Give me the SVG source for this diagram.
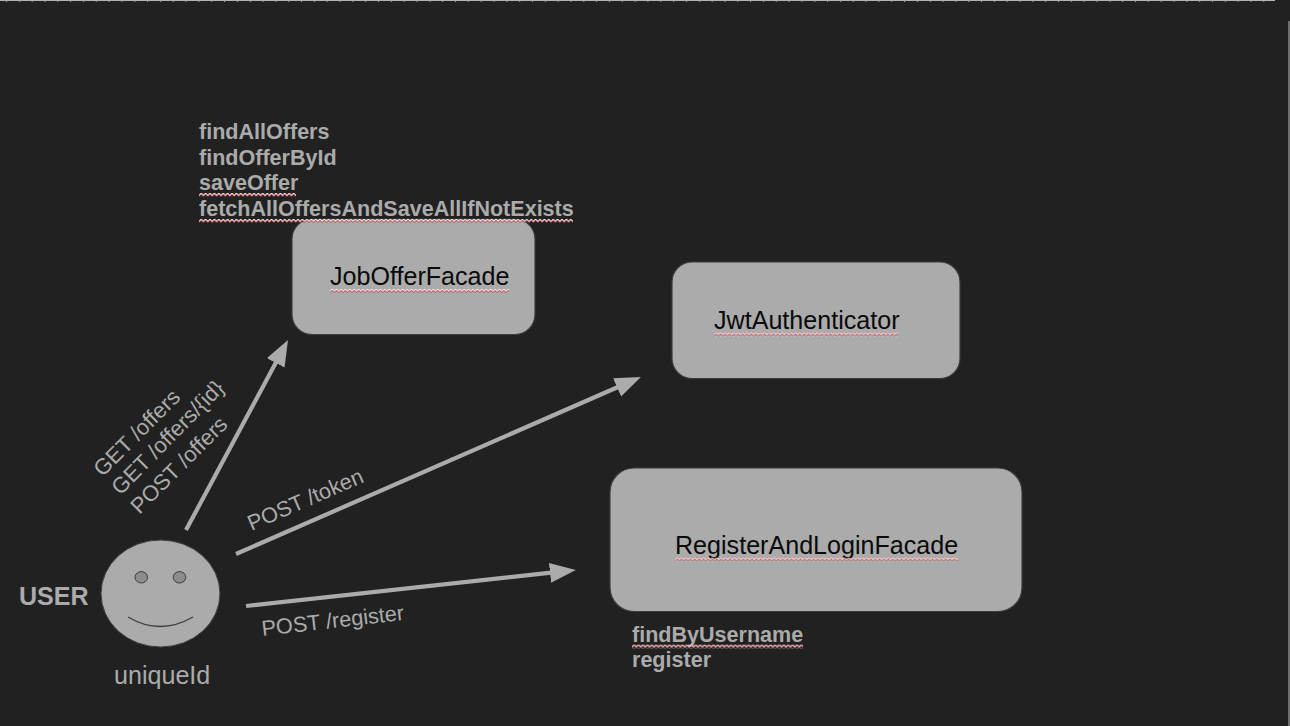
<svg xmlns="http://www.w3.org/2000/svg" width="1290" height="726" viewBox="0 0 1290 726">
<style>
text{font-family:"Liberation Sans",Arial,sans-serif}
.box{fill:#ababab;stroke:#3c3c3c;stroke-width:1.2}
.name{font-size:25.1px;fill:#0a0a0a}
.method{font-size:21.55px;font-weight:bold;fill:#ababab}
.route{font-size:22px;fill:#ababab}
.conn{fill:none;stroke:#ababab;stroke-width:4.2}
.face{fill:#ababab;stroke:#3c3c3c;stroke-width:1}
</style>
<defs>
<marker id="arrow" markerUnits="userSpaceOnUse" markerWidth="28" markerHeight="22" refX="1" refY="10" orient="auto">
<path d="M0 0L26 10L0 20Z" fill="#ababab"/>
</marker>
<pattern id="squiggle" width="4.4" height="4" patternUnits="userSpaceOnUse">
<path d="M0 3.400L2.200 1L4.400 3.400" fill="none" stroke="#c0404c" stroke-width="1.100"/>
<path d="M0 2.400L2.200 0L4.400 2.400" fill="none" stroke="#f4f0f0" stroke-width="0.900"/>
</pattern>
<pattern id="ruler" width="12.83" height="3" patternUnits="userSpaceOnUse">
<rect width="12.83" height="1" fill="#b4b4b4"/>
<rect x="6" width="1" height="2" fill="#a8a8a8"/>
</pattern>
</defs>
<rect width="1290" height="726" fill="#212121"/>
<rect x="0" y="0" width="1275" height="2" fill="url(#ruler)"/>
<rect x="1288" y="21" width="2" height="705" fill="#6e6e6e"/>
<g id="connectors">
<path class="conn" d="M186 530L276.200 362" marker-end="url(#arrow)"/>
<path class="conn" d="M236 554L618 387" marker-end="url(#arrow)"/>
<path class="conn" d="M246 606L551 572.700" marker-end="url(#arrow)"/>
</g>
<g id="job-offer-facade">
<rect class="box" x="292" y="219" width="243" height="115.500" rx="20"/>
<text class="name" x="330" y="285">JobOfferFacade</text>
<rect transform="translate(330 289)" width="179" height="4" fill="url(#squiggle)"/>
</g>
<g id="job-offer-methods">
<text class="method" x="199" y="139">findAllOffers</text>
<text class="method" x="199" y="165">findOfferById</text>
<text class="method" x="199" y="190">saveOffer</text>
<text class="method" x="199" y="216">fetchAllOffersAndSaveAllIfNotExists</text>
<rect transform="translate(199 193)" width="97" height="4" fill="url(#squiggle)"/>
<rect transform="translate(199 219)" width="374" height="4" fill="url(#squiggle)"/>
</g>
<g id="jwt-authenticator">
<rect class="box" x="672" y="262" width="288" height="116.500" rx="20"/>
<text class="name" x="714" y="329">JwtAuthenticator</text>
<rect transform="translate(714 332.500)" width="184" height="4" fill="url(#squiggle)"/>
</g>
<g id="register-and-login-facade">
<rect class="box" x="610" y="468" width="412" height="143.500" rx="24"/>
<text class="name" x="675" y="554">RegisterAndLoginFacade</text>
<rect transform="translate(675 557.500)" width="283" height="4" fill="url(#squiggle)"/>
</g>
<g id="register-methods">
<text class="method" x="632" y="642">findByUsername</text>
<text class="method" x="632" y="667">register</text>
<rect transform="translate(632 644.500)" width="171" height="4" fill="url(#squiggle)"/>
</g>
<g id="user">
<text x="19" y="605" font-size="25.1" font-weight="bold" fill="#ababab">USER</text>
<ellipse class="face" cx="160.500" cy="593.500" rx="59.500" ry="53.500"/>
<ellipse class="face" cx="141.300" cy="577.300" rx="6.300" ry="5.700" style="fill:#8c8c8c"/>
<ellipse class="face" cx="179.500" cy="577.300" rx="6.300" ry="5.700" style="fill:#8c8c8c"/>
<path d="M128 617Q160 636 193 617" fill="none" stroke="#3c3c3c" stroke-width="1.300"/>
<text x="114" y="684" font-size="25.1" fill="#ababab">uniqueId</text>
</g>
<g id="route-labels">
<text class="route" transform="translate(102.500 477.500) rotate(-45)">GET /offers</text>
<text class="route" transform="translate(120.500 496) rotate(-45.500)">GET /offers/{id}</text>
<text class="route" transform="translate(139.500 515) rotate(-45)">POST /offers</text>
<text class="route" style="font-size:21.7px" transform="translate(251.500 531) rotate(-23.500)">POST /token</text>
<text class="route" style="font-size:21.7px" transform="translate(262.500 636) rotate(-6.500)">POST /register</text>
</g>
</svg>
